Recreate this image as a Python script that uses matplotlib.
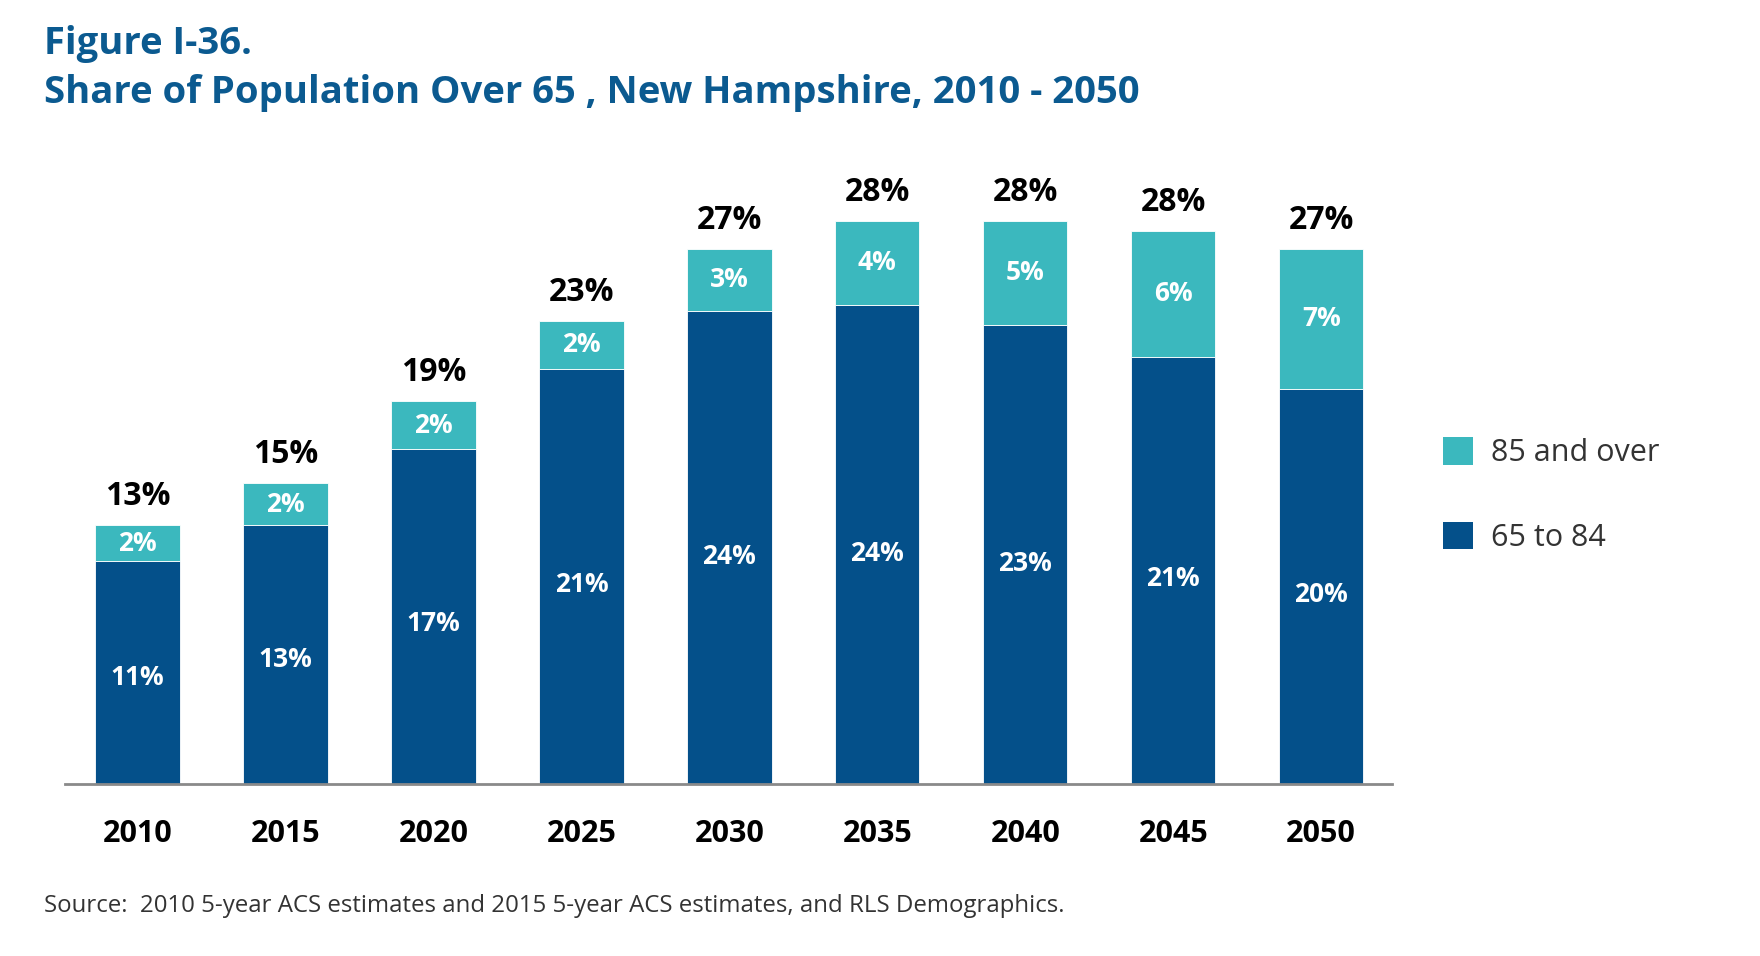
import matplotlib.pyplot as plt
import numpy as np
from matplotlib.patches import Patch

# Data (share of population, %)
years = ["2010", "2015", "2020", "2025", "2030", "2035", "2040", "2045", "2050"]
age_65_84 = [11.1, 12.9, 16.7, 20.7, 23.6, 23.9, 22.9, 21.3, 19.7]
age_85_over = [1.8, 2.1, 2.4, 2.4, 3.1, 4.2, 5.2, 6.3, 7.0]

dark = "#04508a"
teal = "#3bb8be"
title_col = "#0b5a90"

fig = plt.figure(figsize=[17.6, 9.56], dpi=100)
ax = fig.add_axes([0.037, 0.180, 0.754, 0.671])

x = np.arange(len(years))
w = 0.57
young = np.array(age_65_84)
old = np.array(age_85_over)
total = young + old

ax.bar(x, young, w, color=dark, edgecolor="white", linewidth=0.6, label="65 to 84")
ax.bar(x, old, w, bottom=young, color=teal, edgecolor="white", linewidth=0.6, label="85 and over")

# labels inside and on top of the bars
for i in range(len(years)):
    ax.text(x[i], young[i] * 0.48, f"{young[i]:.0f}%", ha="center", va="center",
            color="white", fontsize=19, fontweight="bold", family="Open Sans")
    ax.text(x[i], young[i] + old[i] / 2, f"{old[i]:.0f}%", ha="center", va="center",
            color="white", fontsize=19, fontweight="bold", family="Open Sans")
    ax.text(x[i], total[i] + 0.6, f"{total[i]:.0f}%", ha="center", va="bottom",
            color="black", fontsize=23, fontweight="bold", family="Open Sans")

ax.set_xlim(-0.49, 8.48)
ax.set_ylim(0, 32)
ax.set_xticks(x)
ax.set_xticklabels(years, fontsize=22, fontweight="bold", family="Open Sans")
ax.tick_params(axis="x", length=0, pad=25)
ax.set_yticks([])
for s in ["top", "right", "left"]:
    ax.spines[s].set_visible(False)
ax.spines["bottom"].set_color("#8a8a8a")
ax.spines["bottom"].set_linewidth(2)

# titles
fig.text(0.025, 0.954, "Figure I-36.", ha="left", va="center", fontsize=27.5,
         fontweight="bold", color=title_col, family="Open Sans")
fig.text(0.025, 0.903, "Share of Population Over 65 , New Hampshire, 2010 - 2050",
         ha="left", va="center", fontsize=27.5, fontweight="bold", color=title_col,
         family="Open Sans")

# legend
handles = [Patch(facecolor=teal, label="85 and over"), Patch(facecolor=dark, label="65 to 84")]
leg = fig.legend(handles=handles, loc="center left", bbox_to_anchor=(0.804, 0.482),
                 frameon=False, prop={"family": "Open Sans", "size": 22},
                 handlelength=1.0, handleheight=1.0, labelspacing=1.75, handletextpad=0.6)
for t in leg.get_texts():
    t.set_color("#333333")

fig.text(0.025, 0.052, "Source:  2010 5-year ACS estimates and 2015 5-year ACS estimates, and RLS Demographics.",
         ha="left", va="center", fontsize=17.3, color="#333333", family="Open Sans")

fig.savefig("out.png", dpi=100, facecolor="white")
